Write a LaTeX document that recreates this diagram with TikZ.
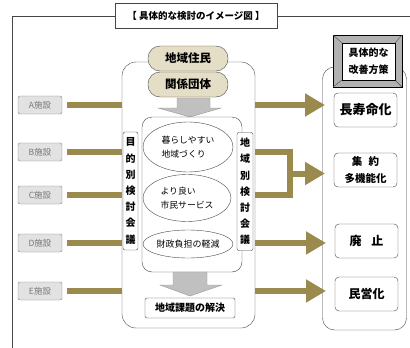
\documentclass[tikz,border=0pt]{standalone}
\usepackage{fontspec}
\setmainfont{Noto Sans CJK JP}
\usetikzlibrary{arrows.meta,shapes.geometric,calc}
\definecolor{barcol}{RGB}{155,138,78}
\definecolor{facfill}{RGB}{226,226,226}
\definecolor{facdraw}{RGB}{130,130,130}
\definecolor{factext}{RGB}{120,120,120}
\definecolor{pillfill}{RGB}{228,222,198}
\definecolor{arrfill}{RGB}{192,192,192}
\definecolor{linecol}{RGB}{70,70,70}
\begin{document}
\begin{tikzpicture}[x=1pt,y=-1pt,
  every node/.style={inner sep=0pt, outer sep=0pt},
  fac/.style={draw=facdraw, fill=facfill, rounded corners=2pt, minimum width=44pt, minimum height=18pt, text=factext, font=\fontsize{8.5}{9}\selectfont},
  bar/.style={draw=barcol, line width=6pt, line join=miter},
  bararrow/.style={bar, -{Triangle[length=20pt,width=22pt]}, shorten >=9pt},
  opt/.style={draw=linecol, fill=white, rounded corners=4pt, minimum width=63pt, minimum height=34pt, font=\bfseries\fontsize{13}{14}\selectfont, align=center},
  pill/.style={draw=linecol, fill=pillfill, rounded corners=12pt, minimum width=80pt, minimum height=25pt, font=\bfseries\fontsize{11.5}{12}\selectfont},
  bigbox/.style={draw=linecol, fill=white, rounded corners=14pt},
  ell/.style={draw=linecol, fill=white, ellipse, font=\fontsize{8.8}{14}\selectfont, align=left},
  vlabel/.style={draw=linecol, fill=white, rounded corners=2pt, minimum width=15pt, minimum height=118pt, font=\bfseries\fontsize{10}{16.2}\selectfont, align=center},
  grayarrow/.style={draw=gray!80, fill=arrfill}
]
\useasboundingbox (0,0) rectangle (410,348);
% outer frame
\draw[linecol] (410,16) -- (12,16) -- (12,348);
\node[draw=linecol, fill=white, minimum width=162pt, minimum height=25pt, font=\bfseries\fontsize{9.5}{11}\selectfont] (title) at (196,15.5) {【 具体的な検討のイメージ図 】};

% facilities
\node[fac] (fa) at (40,105) {A施設};
\node[fac] (fb) at (40,152) {B施設};
\node[fac] (fc) at (40,195) {C施設};
\node[fac] (fd) at (40,243) {D施設};
\node[fac] (fe) at (40,291) {E施設};

% central box
\node[bigbox, minimum width=133pt, minimum height=266pt] (big) at (188.5,195) {};
\node[pill] (p1) at (188,58.5) {地域住民};
\node[pill] (p2) at (188,84.5) {関係団体};
\draw[grayarrow] (177,98) -- (210,98) -- (210,108) -- (221,108) -- (190,117) -- (158,108) -- (177,108) -- cycle;
\node[draw=linecol, fill=white, rounded corners=10pt, minimum width=100pt, minimum height=155pt] (inner) at (192,194.5) {};
\node[ell, minimum width=90pt, minimum height=50pt] (e1) at (188,147) {暮らしやすい\\地域づくり};
\node[ell, minimum width=88pt, minimum height=47pt] (e2) at (187,198) {より良い\\市民サービス};
\node[ell, minimum width=90pt, minimum height=28pt, font=\fontsize{9}{11}\selectfont] (e3) at (188,244) {財政負担の軽減};
\node[vlabel] (vl) at (130.5,191) {目\\的\\別\\検\\討\\会\\議};
\node[vlabel, minimum width=16pt] (vr) at (245,191.5) {地\\域\\別\\検\\討\\会\\議};
\draw[grayarrow] (173,272) -- (207,272) -- (207,285) -- (222,285) -- (190,296) -- (160,285) -- (173,285) -- cycle;
\node[draw=linecol, fill=white, rounded corners=2pt, minimum width=90pt, minimum height=20pt, font=\bfseries\fontsize{10}{12}\selectfont] (goal) at (190,308) {地域課題の解決};

% right box
\node[bigbox, rounded corners=12pt, minimum width=84pt, minimum height=263pt] (rbox) at (364.5,198.5) {};
\node[draw=black, fill=gray!60, minimum width=69pt, minimum height=52pt] (hdr) at (367.5,61) {};
\draw[black!70] (hdr.north west) -- (342,43) (hdr.north east) -- (395,43) (hdr.south west) -- (342,80) (hdr.south east) -- (395,80);
\node[draw=black, fill=white, minimum width=53pt, minimum height=37pt, align=center, font=\bfseries\fontsize{10}{17}\selectfont] (hdrin) at (368.5,61.5) {具体的な\\改善方策};
\node[opt] (oa) at (365.5,110) {長寿命化};
\node[opt, font=\bfseries\fontsize{10.5}{17}\selectfont] (ob) at (365.5,170) {集\hspace{0.6em}約\\多機能化};
\node[opt, font=\bfseries\fontsize{12}{14}\selectfont] (oc) at (366.5,241) {廃\hspace{0.8em}止};
\node[opt, font=\bfseries\fontsize{12}{14}\selectfont] (od) at (366.5,294) {民営化};

% left bars
\foreach \f in {fa,fb,fc,fd,fe}{
  \draw[bar] ([xshift=5pt]\f.east) -- (\f.east -| big.west);
}
% right arrows
\coordinate (j) at (290,173.5);
\draw[bararrow] (fa.east -| big.east) -- (fa.east -| oa.west);
\draw[bar] (fb.east -| big.east) -- (fb.east -| j) -- (fc.east -| j) -- (fc.east -| big.east);
\draw[bararrow] (j) -- (j -| ob.west);
\draw[bararrow] (fd.east -| big.east) -- (fd.east -| oc.west);
\draw[bararrow] (fe.east -| big.east) -- (fe.east -| od.west);
\end{tikzpicture}
\end{document}
